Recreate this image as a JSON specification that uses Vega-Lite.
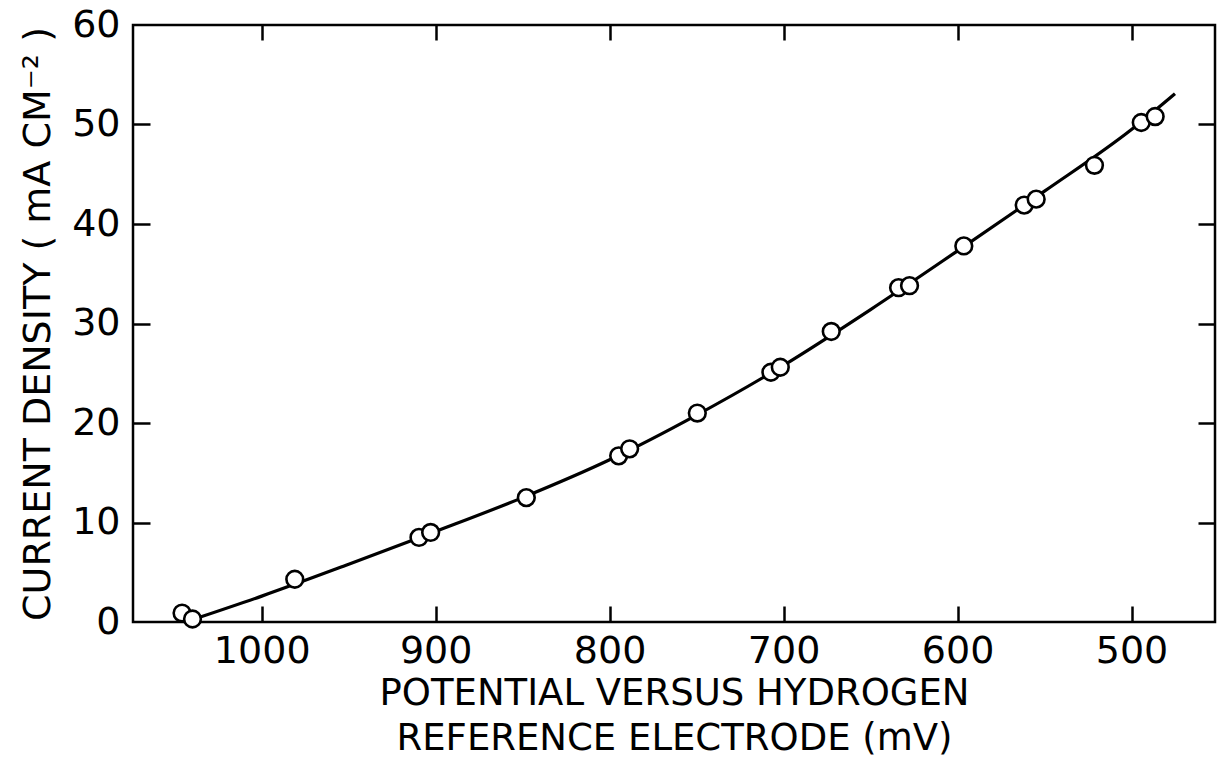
{
  "$schema": "https://vega.github.io/schema/vega-lite/v6.json",
  "width": 1082,
  "height": 597,
  "autosize": {"type": "none"},
  "padding": {"left": 133, "top": 25, "right": 2, "bottom": 148},
  "background": "white",
  "config": {
    "view": {"stroke": "black", "strokeWidth": 2.5},
    "font": "DejaVu Sans",
    "axis": {
      "grid": false,
      "domain": false,
      "tickColor": "black",
      "tickWidth": 2.5,
      "labelColor": "black",
      "titleColor": "black",
      "labelFont": "DejaVu Sans",
      "titleFont": "DejaVu Sans",
      "titleFontWeight": "normal"
    }
  },
  "datasets": {
    "curve": [
      {"potential": 1037, "density": 0.4},
      {"potential": 1000, "density": 2.6},
      {"potential": 950, "density": 5.8},
      {"potential": 900, "density": 9.1},
      {"potential": 850, "density": 12.5},
      {"potential": 800, "density": 16.3},
      {"potential": 750, "density": 20.8},
      {"potential": 700, "density": 25.8},
      {"potential": 650, "density": 31.4},
      {"potential": 600, "density": 37.3},
      {"potential": 550, "density": 43.3},
      {"potential": 500, "density": 49.5},
      {"potential": 475, "density": 53.1}
    ],
    "measured": [
      {"potential": 1045.8, "density": 0.9},
      {"potential": 1039.8, "density": 0.3},
      {"potential": 981.0, "density": 4.3},
      {"potential": 909.6, "density": 8.5},
      {"potential": 902.9, "density": 9.0},
      {"potential": 847.9, "density": 12.5},
      {"potential": 794.8, "density": 16.7},
      {"potential": 788.5, "density": 17.4},
      {"potential": 749.6, "density": 21.0},
      {"potential": 707.3, "density": 25.1},
      {"potential": 701.9, "density": 25.6},
      {"potential": 672.6, "density": 29.2},
      {"potential": 633.9, "density": 33.6},
      {"potential": 627.6, "density": 33.8},
      {"potential": 596.4, "density": 37.8},
      {"potential": 561.7, "density": 41.9},
      {"potential": 554.8, "density": 42.5},
      {"potential": 521.3, "density": 45.9},
      {"potential": 494.4, "density": 50.2},
      {"potential": 486.4, "density": 50.8}
    ]
  },
  "layer": [
    {
      "data": {"name": "curve"},
      "mark": {"type": "line", "interpolate": "monotone", "color": "black", "strokeWidth": 3.2},
      "encoding": {
        "x": {
          "field": "potential",
          "type": "quantitative",
          "scale": {"domain": [452, 1074], "reverse": true, "nice": false, "zero": false},
          "axis": {
            "orient": "bottom",
            "values": [500, 600, 700, 800, 900, 1000],
            "format": "d",
            "ticks": false,
            "labelFontSize": 38,
            "labelPadding": 10,
            "title": ["POTENTIAL VERSUS HYDROGEN", "REFERENCE ELECTRODE (mV)"],
            "titleFontSize": 37,
            "titleLineHeight": 45,
            "titlePadding": 5
          }
        },
        "y": {
          "field": "density",
          "type": "quantitative",
          "scale": {"domain": [0, 60], "nice": false},
          "axis": {
            "orient": "left",
            "values": [0, 10, 20, 30, 40, 50, 60],
            "ticks": false,
            "labelFontSize": 38,
            "labelPadding": 13,
            "title": "CURRENT DENSITY ( mA CM⁻² )",
            "titleFontSize": 38,
            "titlePadding": 14
          }
        }
      }
    },
    {
      "data": {"name": "measured"},
      "mark": {"type": "point", "shape": "circle", "opacity": 0},
      "encoding": {
        "x": {
          "field": "potential",
          "type": "quantitative",
          "axis": {"orient": "bottom", "offset": -597, "values": [500, 600, 700, 800, 900, 1000], "tickSize": 15, "labels": false, "title": null}
        },
        "y": {
          "field": "density",
          "type": "quantitative",
          "axis": {"orient": "left", "offset": -1082, "values": [10, 20, 30, 40, 50], "tickSize": 17, "labels": false, "title": null}
        }
      }
    },
    {
      "data": {"name": "measured"},
      "mark": {"type": "point", "shape": "circle", "filled": true, "fill": "white", "stroke": "black", "strokeWidth": 2.6, "size": 280, "opacity": 1},
      "encoding": {
        "x": {
          "field": "potential",
          "type": "quantitative",
          "axis": {"orient": "top", "offset": -597, "values": [500, 600, 700, 800, 900, 1000], "tickSize": 16, "labels": false, "title": null}
        },
        "y": {
          "field": "density",
          "type": "quantitative",
          "axis": {"orient": "right", "offset": -1082, "values": [10, 20, 30, 40, 50], "tickSize": 17, "labels": false, "title": null}
        }
      }
    }
  ],
  "resolve": {"axis": {"x": "independent", "y": "independent"}}
}
